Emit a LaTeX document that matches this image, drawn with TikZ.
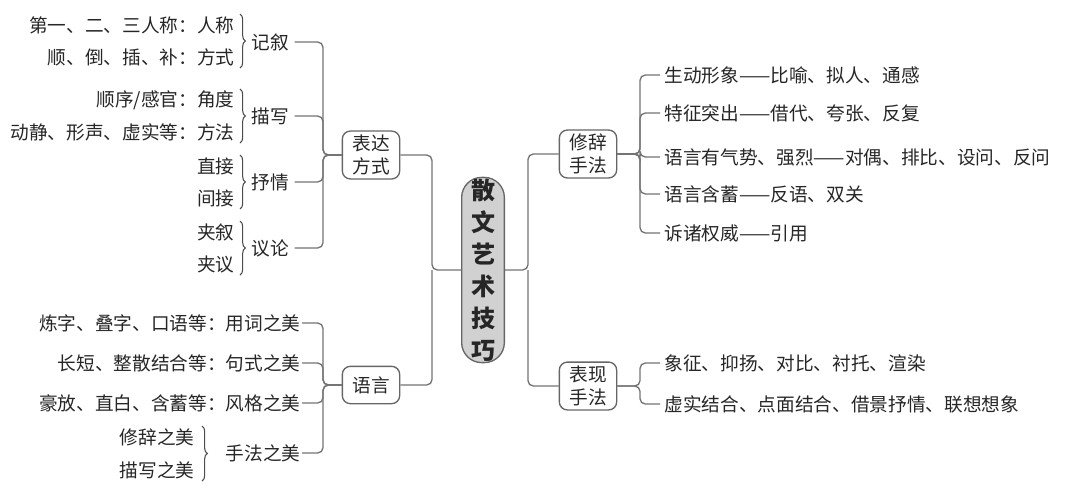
\documentclass[tikz,border=0pt]{standalone}
\usepackage{fontspec}
\setmainfont{Noto Sans CJK SC}
\usetikzlibrary{decorations.pathreplacing,calc}
\begin{document}
\begin{tikzpicture}[x=0.75pt,y=-0.75pt,
  every node/.style={font=\fontsize{14}{16}\selectfont, inner sep=1pt, text=black!85},
  ln/.style={draw=black!55, line width=1pt, rounded corners=4pt},
  br/.style={draw=black!70, line width=0.8pt, decorate, decoration={brace,amplitude=4pt}},
  box/.style={draw=black!60, line width=1pt, rounded corners=6pt, minimum width=43pt, minimum height=30pt, align=center, inner sep=3pt, font=\fontsize{14}{17}\selectfont}]
\useasboundingbox (0,0) rectangle (1080,490);
% center
\node[draw=black!60, fill=black!18, line width=1pt, rounded corners=15pt, minimum width=32pt, minimum height=135pt, align=center, font=\fontsize{18}{24}\bfseries\selectfont] (c) at (483,270) {散\\文\\艺\\术\\技\\巧};
% left boxes
\node[box] (bd) at (371,155) {表达\\方式};
\node[box, minimum height=28pt] (yy) at (371,385) {语言};
\node[box] (xc) at (588,154) {修辞\\手法};
\node[box] (bx) at (588,386) {表现\\手法};
% left spine
\coordinate (ls) at (432,270);
\draw[ln] (bd.east) -| (ls) -- (c.west);
\draw[ln] (yy.east) -| (ls);
\coordinate (rs) at (528,270);
\draw[ln] (xc.west) -| (rs) -- (c.east);
\draw[ln] (bx.west) -| (rs);
% 表达方式 children
\node[anchor=west] (jx) at (250,42) {记叙};
\node[anchor=west] (mx) at (250,116) {描写};
\node[anchor=west] (sq) at (250,182) {抒情};
\node[anchor=west] (yl) at (250,248) {议论};
\coordinate (b1) at (323,155);
\foreach \n in {jx,mx,sq,yl}{\draw[ln] (\n.east) ++(4,0) -| (b1) -- (bd.west);}
\node[anchor=east] (a1) at (236,25) {第一、二、三人称：人称};
\node[anchor=east] (a2) at (236,57) {顺、倒、插、补：方式};
\node[anchor=east] (a3) at (236,100) {顺序/感官：角度};
\node[anchor=east] (a4) at (236,132) {动静、形声、虚实等：方法};
\node[anchor=east] (a5) at (236,166) {直接};
\node[anchor=east] (a6) at (236,198) {间接};
\node[anchor=east] (a7) at (236,232) {夹叙};
\node[anchor=east] (a8) at (236,264) {夹议};
\draw[br] (240,14) -- (240,68);
\draw[br] (240,89) -- (240,143);
\draw[br] (240,155) -- (240,209);
\draw[br] (240,221) -- (240,275);
% 语言 children
\node[anchor=east] (l1) at (302,323) {炼字、叠字、口语等：用词之美};
\node[anchor=east] (l2) at (302,363) {长短、整散结合等：句式之美};
\node[anchor=east] (l3) at (302,403) {豪放、直白、含蓄等：风格之美};
\node[anchor=east] (l4) at (302,453) {手法之美};
\coordinate (b2) at (323,385);
\foreach \n in {l1,l2,l3,l4}{\draw[ln] (\n.east) -| (b2) -- (yy.west);}
\node[anchor=east] (m1) at (196,437) {修辞之美};
\node[anchor=east] (m2) at (196,470) {描写之美};
\draw[br] (202,426) -- (202,481);
% right children
\coordinate (b3) at (640,154);
\node[anchor=west] (r1) at (663,75) {生动形象——比喻、拟人、通感};
\node[anchor=west] (r2) at (663,113) {特征突出——借代、夸张、反复};
\node[anchor=west] (r3) at (663,157) {语言有气势、强烈——对偶、排比、设问、反问};
\node[anchor=west] (r4) at (663,194) {语言含蓄——反语、双关};
\node[anchor=west] (r5) at (663,233) {诉诸权威——引用};
\foreach \n in {r1,r2,r3,r4,r5}{\draw[ln] (\n.west) ++(-3,0) -| (b3) -- (xc.east);}
\coordinate (b4) at (640,386);
\node[anchor=west] (s1) at (663,363) {象征、抑扬、对比、衬托、渲染};
\node[anchor=west] (s2) at (663,404) {虚实结合、点面结合、借景抒情、联想想象};
\foreach \n in {s1,s2}{\draw[ln] (\n.west) ++(-3,0) -| (b4) -- (bx.east);}
\end{tikzpicture}
\end{document}
